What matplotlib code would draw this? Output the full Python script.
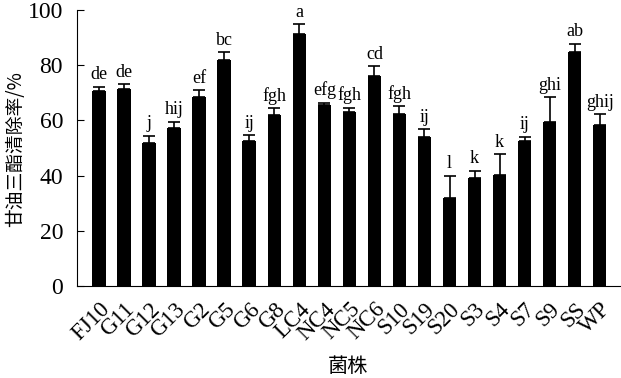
import matplotlib
matplotlib.use("Agg")
import matplotlib.pyplot as plt
import numpy as np

strains = ["FJ10", "G11", "G12", "G13", "G2", "G5", "G6", "G8", "LC4", "NC4", "NC5",
           "NC6", "S10", "S19", "S20", "S3", "S4", "S7", "S9", "SS", "WP"]
rate = [70.8, 71.3, 51.7, 57.2, 68.5, 81.8, 52.4, 61.8, 91.1, 65.5, 63.2,
        76.0, 62.4, 53.9, 31.8, 39.1, 40.1, 52.4, 59.3, 84.7, 58.3]
err = [1.4, 1.8, 2.8, 2.3, 2.4, 2.8, 2.2, 2.7, 3.8, 0.9, 1.4,
       3.5, 2.7, 2.9, 8.2, 2.7, 7.7, 1.7, 9.1, 3.1, 4.0]
letters = ["de", "de", "j", "hij", "ef", "bc", "ij", "fgh", "a", "efg", "fgh",
           "cd", "fgh", "ij", "l", "k", "k", "ij", "ghi", "ab", "ghij"]

serif = "Liberation Serif"
cjk = ["Noto Sans CJK SC", "DejaVu Sans"]

fig = plt.figure(figsize=(6.21, 3.78), dpi=100)
ax = fig.add_axes([0.124, 0.243, 0.874, 0.731])

x = np.arange(len(strains))
ax.bar(x, rate, width=0.54, color="black", zorder=2)
ax.errorbar(x, rate, yerr=[np.zeros(len(err)), err], fmt="none", ecolor="black",
            elinewidth=1.2, capsize=4, capthick=1.2, zorder=3)

# significance letters above the error bars
for xi, r, e, lab in zip(x, rate, err, letters):
    ax.text(xi, r + e + 1.2, lab, ha="center", va="bottom", fontsize=13,
            family=serif)

ax.set_xlim(-0.88, 20.8)
ax.set_ylim(0, 100)
ax.set_yticks([0, 20, 40, 60, 80, 100])
ax.spines["top"].set_visible(False)
ax.spines["right"].set_visible(False)
ax.tick_params(axis="y", direction="in", length=5, labelsize=17, pad=10)
ax.tick_params(axis="x", length=0, pad=9)
for lab in ax.get_yticklabels():
    lab.set_family(serif)

ax.set_xticks(x)
ax.set_xticklabels(strains, rotation=45, ha="right", rotation_mode="anchor",
                   fontsize=16.5, family=serif)

ax.set_ylabel("甘油三酯清除率/%", family=cjk, fontsize=13.5)
ax.yaxis.set_label_coords(-0.094, 0.496)
ax.set_xlabel("菌株", family=cjk, fontsize=14.5, labelpad=8)

fig.savefig("out.png", dpi=100)
